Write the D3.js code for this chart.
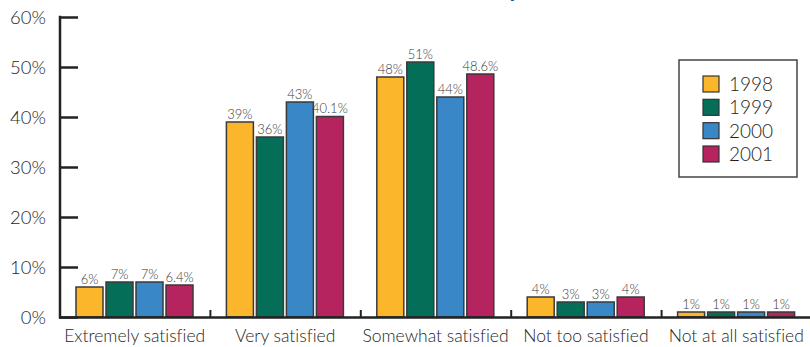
<!DOCTYPE html>
<html><head><meta charset="utf-8">
<script src="https://cdn.jsdelivr.net/npm/d3@7"></script>
<style>
html,body{margin:0;padding:0;background:#fff;}
svg{display:block;}
text{font-family:Lato,"Liberation Sans",sans-serif;font-variant-ligatures:none;font-feature-settings:"liga" 0;}
</style></head>
<body>
<svg id="chart" width="810" height="347"></svg>
<script>
const categories = ["Extremely satisfied","Very satisfied","Somewhat satisfied","Not too satisfied","Not at all satisfied"];
const years = ["1998","1999","2000","2001"];
const values1998 = [6, 39, 48, 4, 1];
const values1999 = [7, 36, 51, 3, 1];
const values2000 = [7, 43, 44, 3, 1];
const values2001 = [6.4, 40.1, 48.6, 4, 1];
const yTicks = [0, 10, 20, 30, 40, 50, 60];
const colors = ["#FBB62B", "#046E58", "#3A87C8", "#B5245F"];

const series = [values1998, values1999, values2000, values2001];

const svg = d3.select("#chart");

// partially visible title fragment
svg.append("text").attr("x", 508).attr("y", -3).attr("font-size", 24).attr("font-weight", 700)
  .attr("fill", "#1B4F8F").text("y");

const x = d3.scaleBand().domain(categories).range([60, 812]);
const xi = d3.scaleBand().domain(years).range([14.5, 134.5]).paddingInner(0.1).paddingOuter(0.05);
const y = d3.scaleLinear().domain([0, 60]).range([317, 17]);

// y axis
const yAxis = d3.axisRight(y).tickValues(yTicks).tickSize(18).tickFormat("");
const yg = svg.append("g").attr("transform", "translate(60,0)").call(yAxis);
yg.select(".domain").remove();
yg.selectAll(".tick line").attr("stroke", "#222").attr("stroke-width", 2.5);
svg.append("line").attr("x1", 60).attr("x2", 60).attr("y1", y(60) - 1.2).attr("y2", y(0) + 1.5)
  .attr("stroke", "#222").attr("stroke-width", 2.5);

svg.append("g").selectAll("text").data(yTicks).join("text")
  .attr("x", 46).attr("y", d => y(d) + 6.5).attr("text-anchor", "end")
  .attr("font-size", 18.5).attr("font-weight", 300).attr("fill", "#1e1e1e").text(d => d + "%");

// bars
const groups = svg.append("g").selectAll("g").data(categories).join("g")
  .attr("transform", c => `translate(${x(c)},0)`);

groups.selectAll("rect").data((c, ci) => years.map((yr, si) => ({yr, si, v: series[si][ci]}))).join("rect")
  .attr("x", d => xi(d.yr)).attr("width", xi.bandwidth())
  .attr("y", d => y(d.v)).attr("height", d => y(0) - y(d.v))
  .attr("fill", d => colors[d.si]).attr("stroke", "#3a3a3a").attr("stroke-width", 1.5);

groups.selectAll("text.val").data((c, ci) => years.map((yr, si) => ({yr, si, v: series[si][ci]}))).join("text")
  .attr("class", "val")
  .attr("x", d => xi(d.yr) + xi.bandwidth() / 2).attr("y", d => y(d.v) - 3.5)
  .attr("text-anchor", "middle").attr("font-size", 13).attr("font-weight", 300).attr("fill", "#3a3a3a")
  .text(d => d.v + "%");

// x axis baseline
svg.append("line").attr("x1", 59).attr("x2", 810).attr("y1", y(0) + 0.5).attr("y2", y(0) + 0.5)
  .attr("stroke", "#222").attr("stroke-width", 2.5);
svg.append("g").selectAll("line").data(categories.slice(1)).join("line")
  .attr("x1", c => x(c)).attr("x2", c => x(c)).attr("y1", y(0)).attr("y2", y(0) - 7)
  .attr("stroke", "#222").attr("stroke-width", 2);

// category labels
svg.append("g").selectAll("text").data(categories).join("text")
  .attr("x", c => x(c) + x.bandwidth() / 2 - 0.5).attr("y", 342)
  .attr("text-anchor", "middle").attr("font-size", 17.5).attr("font-weight", 300).attr("fill", "#1e1e1e")
  .text(c => c);

// legend
const lg = svg.append("g");
lg.append("rect").attr("x", 679).attr("y", 60).attr("width", 118).attr("height", 117)
  .attr("fill", "#fff").attr("stroke", "#444").attr("stroke-width", 1.5);
const ly = d3.scalePoint().domain(years).range([84, 154]);
lg.selectAll("rect.sw").data(years).join("rect").attr("class", "sw")
  .attr("x", 703).attr("y", d => ly(d) - 8).attr("width", 16).attr("height", 16)
  .attr("fill", (d, i) => colors[i]).attr("stroke", "#333").attr("stroke-width", 1.2);
lg.selectAll("text").data(years).join("text")
  .attr("x", 729).attr("y", d => ly(d) + 7).attr("font-size", 19).attr("font-weight", 300).attr("fill", "#1e1e1e")
  .text(d => d);
</script>
</body></html>
